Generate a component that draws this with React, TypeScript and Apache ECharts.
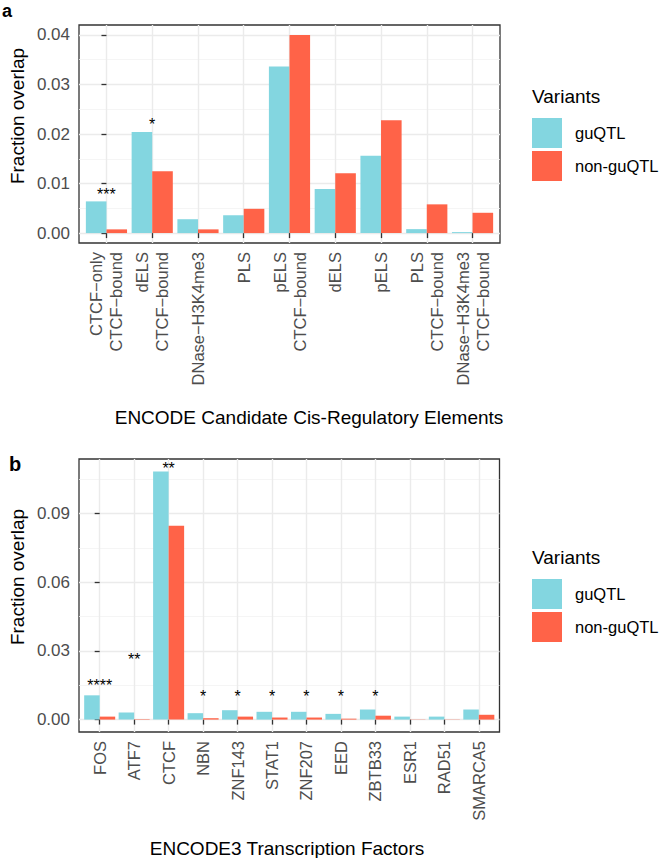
import React, { useEffect, useRef } from 'react';
import * as echarts from 'echarts';

const FONT = '"Liberation Sans", Arial, Helvetica, sans-serif';
const COLOR_GU = '#83D6E0';
const COLOR_NON = '#FF6348';
const SERIES_NAMES = ['guQTL', 'non-guQTL'];

// Panel a: ENCODE cCREs
const ccreCategories = [
  'CTCF−only\nCTCF−bound',
  'dELS\nCTCF−bound',
  'DNase−H3K4me3',
  'PLS',
  'pELS\nCTCF−bound',
  'dELS',
  'pELS',
  'PLS\nCTCF−bound',
  'DNase−H3K4me3\nCTCF−bound',
];
const ccreGuQTL = [0.0064, 0.0204, 0.0028, 0.0036, 0.0336, 0.0089, 0.0156, 0.0008, 0.0002];
const ccreNonGuQTL = [0.00075, 0.0125, 0.00075, 0.0049, 0.04, 0.0121, 0.0228, 0.0058, 0.0041];
const ccreStarIndex = [0, 1];
const ccreStarText = ['***', '*'];
const ccreStarY = [0.0083, 0.0225];
const ccreTicks = [0, 0.01, 0.02, 0.03, 0.04];
const ccreMinorTicks = [0.005, 0.015, 0.025, 0.035];

// Panel b: ENCODE3 TFs
const tfCategories = ['FOS', 'ATF7', 'CTCF', 'NBN', 'ZNF143', 'STAT1', 'ZNF207', 'EED', 'ZBTB33', 'ESR1', 'RAD51', 'SMARCA5'];
const tfGuQTL = [0.0106, 0.0031, 0.1084, 0.0028, 0.0041, 0.0034, 0.0034, 0.0025, 0.0044, 0.0013, 0.0013, 0.0044];
const tfNonGuQTL = [0.0013, 0.0002, 0.0847, 0.0006, 0.0013, 0.0009, 0.0009, 0.0004, 0.0017, 0.0001, 0.0001, 0.0021];
const tfStarIndex = [0, 1, 2, 3, 4, 5, 6, 7, 8];
const tfStarText = ['****', '**', '**', '*', '*', '*', '*', '*', '*'];
const tfStarY = [0.0162, 0.0276, 0.1111, 0.0114, 0.0114, 0.0114, 0.0114, 0.0114, 0.0114];
const tfTicks = [0, 0.03, 0.06, 0.09];
const tfMinorTicks = [0.015, 0.045, 0.075, 0.105];

type PanelCfg = {
  cats: string[];
  gu: number[];
  non: number[];
  starIndex: number[];
  starText: string[];
  starY: number[];
  ticks: number[];
  minor: number[];
  grid: { left: number; top: number; width: number; height: number };
  legendTop: number;
};

function buildPanel(idx: number, c: PanelCfg) {
  const n = c.cats.length;
  const dataMax = Math.max(...c.gu, ...c.non);
  const yMin = -0.05 * dataMax;
  const yMax = 1.05 * dataMax;
  const catIdx = c.cats.map((_, i) => i);

  const grid = {
    left: c.grid.left,
    top: c.grid.top,
    width: c.grid.width,
    height: c.grid.height,
    show: true,
    backgroundColor: 'transparent',
    borderColor: '#333333',
    borderWidth: 1.3,
    containLabel: false,
  };

  const xAxis = {
    type: 'value',
    gridIndex: idx,
    min: -0.6,
    max: n - 1 + 0.6,
    axisLine: { show: false },
    axisTick: { show: true, length: 5, customValues: catIdx, lineStyle: { color: '#333333', width: 1.3 } },
    axisLabel: {
      customValues: catIdx,
      formatter: (v: number) => c.cats[Math.round(v)] ?? '',
      rotate: 90,
      fontSize: 16.5,
      lineHeight: 20,
      color: '#4d4d4d',
      fontFamily: FONT,
      margin: 9,
    },
    splitLine: { show: true, customValues: catIdx, lineStyle: { color: '#EBEBEB', width: 1.4 } },
  };

  const yMain = {
    type: 'value',
    gridIndex: idx,
    min: yMin,
    max: yMax,
    axisLine: { show: false },
    axisTick: { show: true, length: 5, customValues: c.ticks, lineStyle: { color: '#333333', width: 1.3 } },
    axisLabel: {
      customValues: c.ticks,
      formatter: (v: number) => v.toFixed(2),
      fontSize: 17,
      color: '#4d4d4d',
      fontFamily: FONT,
      margin: 9,
    },
    splitLine: { show: true, customValues: c.ticks, lineStyle: { color: '#EBEBEB', width: 1.4 } },
  };

  const yMinor = {
    type: 'value',
    gridIndex: idx,
    min: yMin,
    max: yMax,
    axisLine: { show: false },
    axisTick: { show: false, customValues: c.minor },
    axisLabel: { show: false, customValues: c.minor },
    splitLine: { show: true, customValues: c.minor, lineStyle: { color: '#F2F2F2', width: 0.8 } },
  };

  const barSeries = (name: string, values: number[], color: string, offset: number) => ({
    type: 'custom',
    name,
    xAxisIndex: idx,
    yAxisIndex: idx * 2,
    itemStyle: { color },
    data: values.map((v, i) => [i, v]),
    encode: { x: 0, y: 1 },
    z: 3,
    renderItem: (_params: any, api: any) => {
      const i = api.value(0);
      const v = api.value(1);
      const p0 = api.coord([i + offset, v]);
      const p1 = api.coord([i + offset + 0.45, 0]);
      return {
        type: 'rect',
        shape: { x: p0[0], y: p0[1], width: p1[0] - p0[0], height: p1[1] - p0[1] },
        style: { fill: color },
      };
    },
  });

  const starSeries = {
    type: 'custom',
    name: 'stars',
    xAxisIndex: idx,
    yAxisIndex: idx * 2,
    data: c.starIndex.map((k, j) => [k, c.starY[j]]),
    encode: { x: 0, y: 1 },
    z: 4,
    renderItem: (params: any, api: any) => {
      const p = api.coord([api.value(0), api.value(1)]);
      return {
        type: 'text',
        x: p[0],
        y: p[1] + 3,
        style: {
          text: c.starText[params.dataIndex],
          fontSize: 16,
          fontFamily: FONT,
          fill: '#000000',
          align: 'center',
          verticalAlign: 'middle',
        },
      };
    },
  };

  const legend = {
    orient: 'vertical',
    left: 532,
    top: c.legendTop,
    padding: 0,
    itemWidth: 30,
    itemHeight: 30,
    itemGap: 3,
    icon: 'rect',
    selectedMode: false,
    data: SERIES_NAMES,
    textStyle: { fontSize: 16.5, color: '#000000', fontFamily: FONT, padding: [0, 0, 0, 8] },
  };

  return {
    grid,
    xAxis,
    yAxes: [yMain, yMinor],
    series: [barSeries(SERIES_NAMES[0], c.gu, COLOR_GU, -0.45), barSeries(SERIES_NAMES[1], c.non, COLOR_NON, 0), starSeries],
    legend,
  };
}

export default function App() {
  const ref = useRef<HTMLDivElement>(null);

  useEffect(() => {
    if (!ref.current) return;
    const chart = echarts.init(ref.current, undefined, { renderer: 'svg' });

    const pa = buildPanel(0, {
      cats: ccreCategories,
      gu: ccreGuQTL,
      non: ccreNonGuQTL,
      starIndex: ccreStarIndex,
      starText: ccreStarText,
      starY: ccreStarY,
      ticks: ccreTicks,
      minor: ccreMinorTicks,
      grid: { left: 79, top: 25, width: 421, height: 218 },
      legendTop: 118,
    });
    const pb = buildPanel(1, {
      cats: tfCategories,
      gu: tfGuQTL,
      non: tfNonGuQTL,
      starIndex: tfStarIndex,
      starText: tfStarText,
      starY: tfStarY,
      ticks: tfTicks,
      minor: tfMinorTicks,
      grid: { left: 79, top: 459, width: 420.5, height: 273 },
      legendTop: 579,
    });

    const titleStyle = { fontSize: 19, fontFamily: FONT, fill: '#000000' };

    chart.setOption({
      animation: false,
      backgroundColor: '#ffffff',
      grid: [pa.grid, pb.grid],
      xAxis: [pa.xAxis, pb.xAxis],
      yAxis: [...pa.yAxes, ...pb.yAxes],
      series: [...pa.series, ...pb.series],
      legend: [pa.legend, pb.legend],
      graphic: [
        { type: 'text', x: 2, y: 11, style: { text: 'a', fontSize: 18, fontWeight: 'bold', fontFamily: FONT, fill: '#000', align: 'left', verticalAlign: 'middle' } },
        { type: 'text', x: 9, y: 464, style: { text: 'b', fontSize: 20, fontWeight: 'bold', fontFamily: FONT, fill: '#000', align: 'left', verticalAlign: 'middle' } },
        { type: 'text', x: 17, y: 116, rotation: Math.PI / 2, style: { ...titleStyle, text: 'Fraction overlap', align: 'center', verticalAlign: 'middle' } },
        { type: 'text', x: 17, y: 577, rotation: Math.PI / 2, style: { ...titleStyle, text: 'Fraction overlap', align: 'center', verticalAlign: 'middle' } },
        { type: 'text', x: 309, y: 417, style: { ...titleStyle, text: 'ENCODE Candidate Cis-Regulatory Elements', align: 'center', verticalAlign: 'middle' } },
        { type: 'text', x: 287, y: 848, style: { ...titleStyle, text: 'ENCODE3 Transcription Factors', align: 'center', verticalAlign: 'middle' } },
        { type: 'text', x: 532, y: 96, style: { ...titleStyle, text: 'Variants', align: 'left', verticalAlign: 'middle' } },
        { type: 'text', x: 532, y: 557, style: { ...titleStyle, text: 'Variants', align: 'left', verticalAlign: 'middle' } },
      ],
    });

    return () => chart.dispose();
  }, []);

  return <div ref={ref} style={{ position: 'absolute', left: 0, top: 0, width: 666, height: 858 }} />;
}
